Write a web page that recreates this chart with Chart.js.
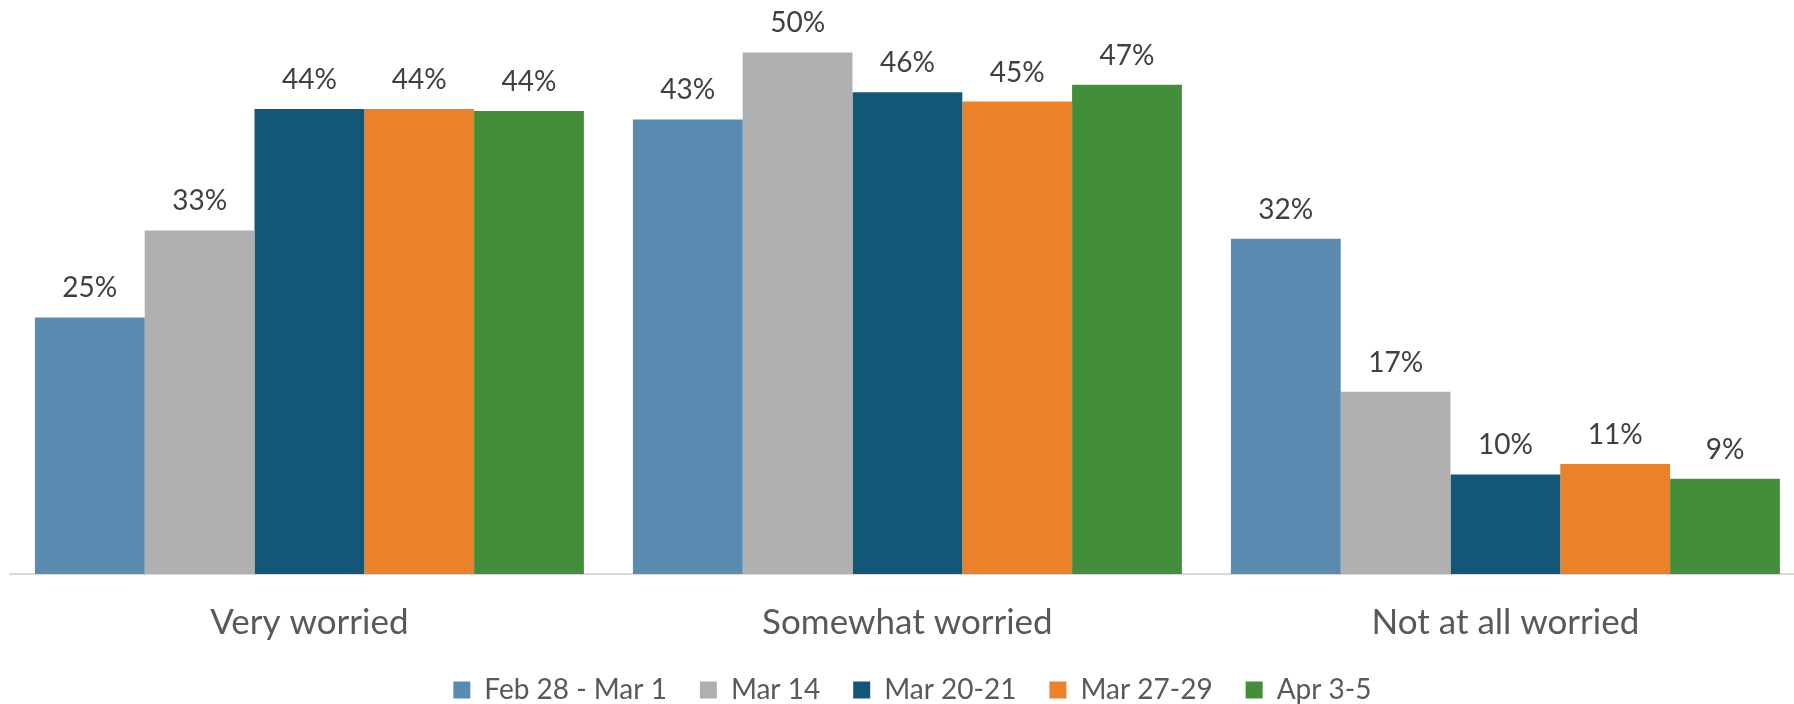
<!DOCTYPE html>
<html>
<head>
<meta charset="utf-8">
<script src="https://cdn.jsdelivr.net/npm/chart.js@4.4.1/dist/chart.umd.min.js"></script>
<style>
    html, body { margin: 0; padding: 0; background: #ffffff; overflow: hidden; }
    #WorryChart { position: absolute; left: 0; top: 0; }
</style>
</head>
<body>
<canvas id="WorryChart" width="1814" height="743"></canvas>
<script>
const categories = ['Very worried', 'Somewhat worried', 'Not at all worried'];
const seriesNames = ['Feb 28 - Mar 1', 'Mar 14', 'Mar 20-21', 'Mar 27-29', 'Apr 3-5'];

// percent of respondents, per survey wave
const feb28_mar1 = [24.5, 43.4, 32.0];
const mar14 = [32.8, 49.8, 17.4];
const mar20_21 = [44.4, 46.0, 9.5];
const mar27_29 = [44.4, 45.1, 10.5];
const apr3_5 = [44.2, 46.7, 9.1];

const seriesColors = ['#5A8BB0', '#B0B0B0', '#125777', '#EB8128', '#428E3B'];

const FONT = 'Lato';

// value labels above each bar
const barLabels = {
    id: 'barLabels',
    afterDatasetsDraw(chart) {
        const ctx = chart.ctx;
        ctx.save();
        ctx.font = '28px ' + FONT;
        ctx.fillStyle = '#404040';
        ctx.textAlign = 'center';
        ctx.textBaseline = 'alphabetic';
        chart.data.datasets.forEach((ds, i) => {
            chart.getDatasetMeta(i).data.forEach((bar, j) => {
                ctx.fillText(Math.round(ds.data[j]) + '%', bar.x, bar.y - 20);
            });
        });
        ctx.restore();
    }
};

// small nudge so the legend sits where the original one does
const legendNudge = {
    id: 'legendNudge',
    afterLayout(chart) {
        const lg = chart.legend;
        if (!lg) return;
        lg.left += 5;
        lg.right += 5;
        lg.top -= 29;
        lg.bottom -= 29;
    }
};

const seriesData = [feb28_mar1, mar14, mar20_21, mar27_29, apr3_5];

const ctx = document.getElementById('WorryChart').getContext('2d');

new Chart(ctx, {
    type: 'bar',
    data: {
        labels: categories,
        datasets: seriesNames.map((name, i) => ({
            label: name,
            data: seriesData[i],
            backgroundColor: seriesColors[i],
            borderWidth: 0,
            categoryPercentage: 0.918,
            barPercentage: 1.0
        }))
    },
    options: {
        responsive: false,
        animation: false,
        devicePixelRatio: 1,
        layout: {
            padding: { top: 50.3, left: 10.4, right: 9.6, bottom: 0 }
        },
        plugins: {
            legend: {
                display: true,
                position: 'bottom',
                labels: {
                    color: '#595959',
                    font: { family: FONT, size: 28 },
                    boxWidth: 17,
                    boxHeight: 17,
                    padding: 33
                }
            },
            tooltip: { enabled: false }
        },
        scales: {
            x: {
                ticks: {
                    color: '#595959',
                    font: { family: FONT, size: 35 },
                    padding: 28
                },
                grid: {
                    display: true,
                    drawOnChartArea: false,
                    drawTicks: false
                },
                border: {
                    display: true,
                    color: '#D9D9D9',
                    width: 2
                }
            },
            y: {
                display: false,
                min: 0,
                max: 50
            }
        }
    },
    plugins: [barLabels, legendNudge]
});
</script>
</body>
</html>
